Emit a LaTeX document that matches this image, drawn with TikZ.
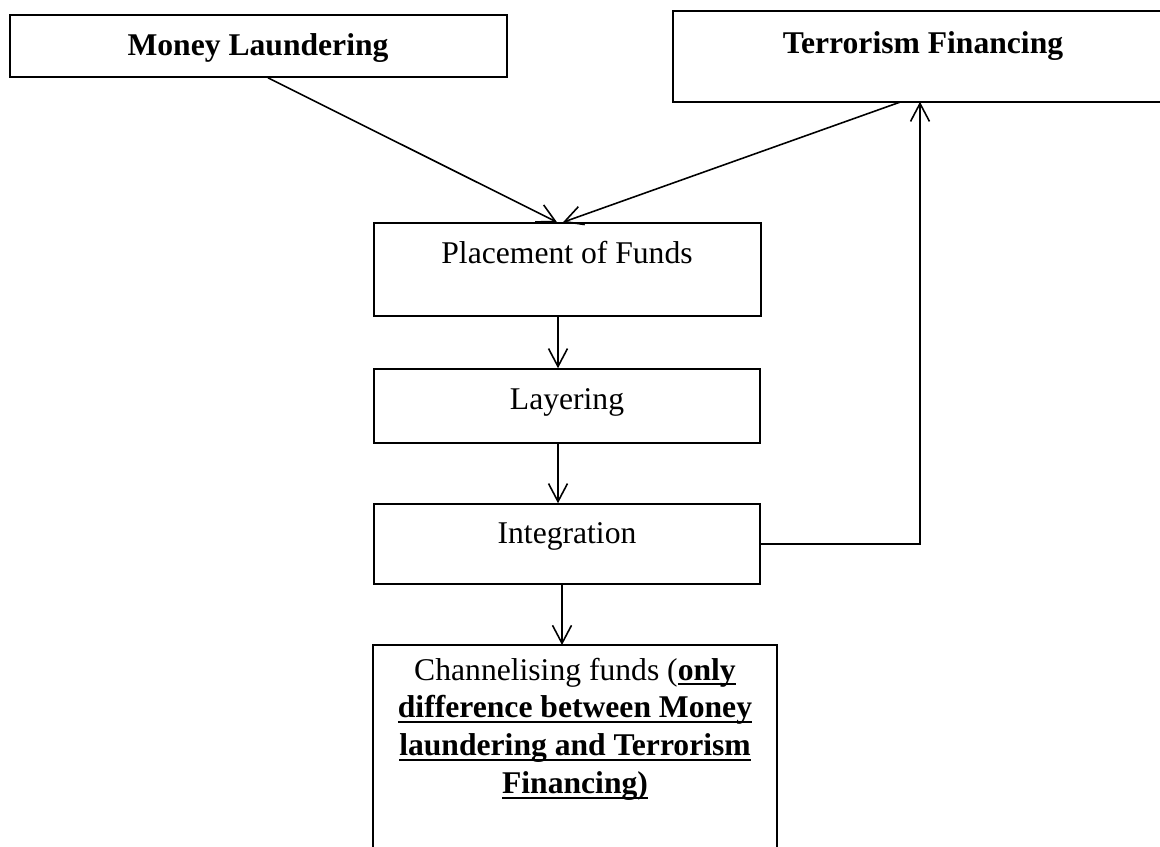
\documentclass[tikz,border=0pt]{standalone}
\usepackage{fontspec}
\setmainfont{Liberation Serif}
\newcommand\myul[1]{\setbox0\hbox{#1}\rlap{\rule[-3.05pt]{\wd0}{1.1pt}}\box0}
\usetikzlibrary{arrows.meta}
\begin{document}
\begin{tikzpicture}[x=0.02cm,y=-0.02cm,line width=0.9pt,
  box/.style={draw,rectangle,inner sep=0pt,line width=0.9pt},
  frame/.style={rectangle,inner sep=0pt},
  lbl/.style={anchor=base,inner sep=0pt,font=\fontsize{18}{21.5}\selectfont},
  arr/.style={-{Straight Barb[length=3.6mm,width=3.8mm]},line width=0.9pt}]
\useasboundingbox (0,0) rectangle (1160,846);
% boxes
\node[box,minimum width=9.94cm,minimum height=1.24cm] (ml) at (258.5,46) {};
\node[frame,minimum width=10.12cm,minimum height=1.78cm] (tf) at (927,56.5) {};
\draw ([xshift=0.66cm]tf.north east) -- (tf.north west) -- (tf.south west) -- ([xshift=0.66cm]tf.south east);
\node[box,minimum width=7.74cm,minimum height=1.86cm] (pl) at (567.5,269.5) {};
\node[box,minimum width=7.72cm,minimum height=1.48cm] (la) at (567,406) {};
\node[box,minimum width=7.72cm,minimum height=1.6cm] (in) at (567,544) {};
\node[frame,minimum width=8.04cm,minimum height=4.02cm,anchor=north] (ch) at (575,645) {};
\draw (ch.south west) -- (ch.north west) -- (ch.north east) -- (ch.south east);
% texts
\node[lbl] (mlt) at (258,55) {\textbf{Money Laundering}};
\node[lbl] (tft) at (923,53) {\textbf{Terrorism Financing}};
\node[lbl] (plt) at (567,263) {Placement of Funds};
\node[lbl] (lat) at (567,409) {Layering};
\node[lbl] (int) at (567,543) {Integration};
\node[lbl,anchor=north,align=center] (cht) at (575,657)
  {Channelising funds (\myul{\textbf{only}}\\
   \myul{\textbf{difference between Money}}\\
   \myul{\textbf{laundering and Terrorism}}\\
   \myul{\textbf{Financing)}}};
% connectors
\draw[arr] ([xshift=0.19cm]ml.south) -- ([xshift=-0.21cm]pl.north);
\draw[arr] ([xshift=-0.52cm]tf.south) -- ([xshift=-0.09cm]pl.north);
\draw[arr] ([xshift=-0.19cm]pl.south) -- ([xshift=-0.18cm]la.north);
\draw[arr] ([xshift=-0.18cm]la.south) -- ([xshift=-0.18cm]in.north);
\draw[arr] ([xshift=-0.1cm]in.south) -- ([xshift=-0.26cm]ch.north);
\draw[arr] (in.east) -| ([xshift=-0.14cm]tf.south);
\end{tikzpicture}
\end{document}
